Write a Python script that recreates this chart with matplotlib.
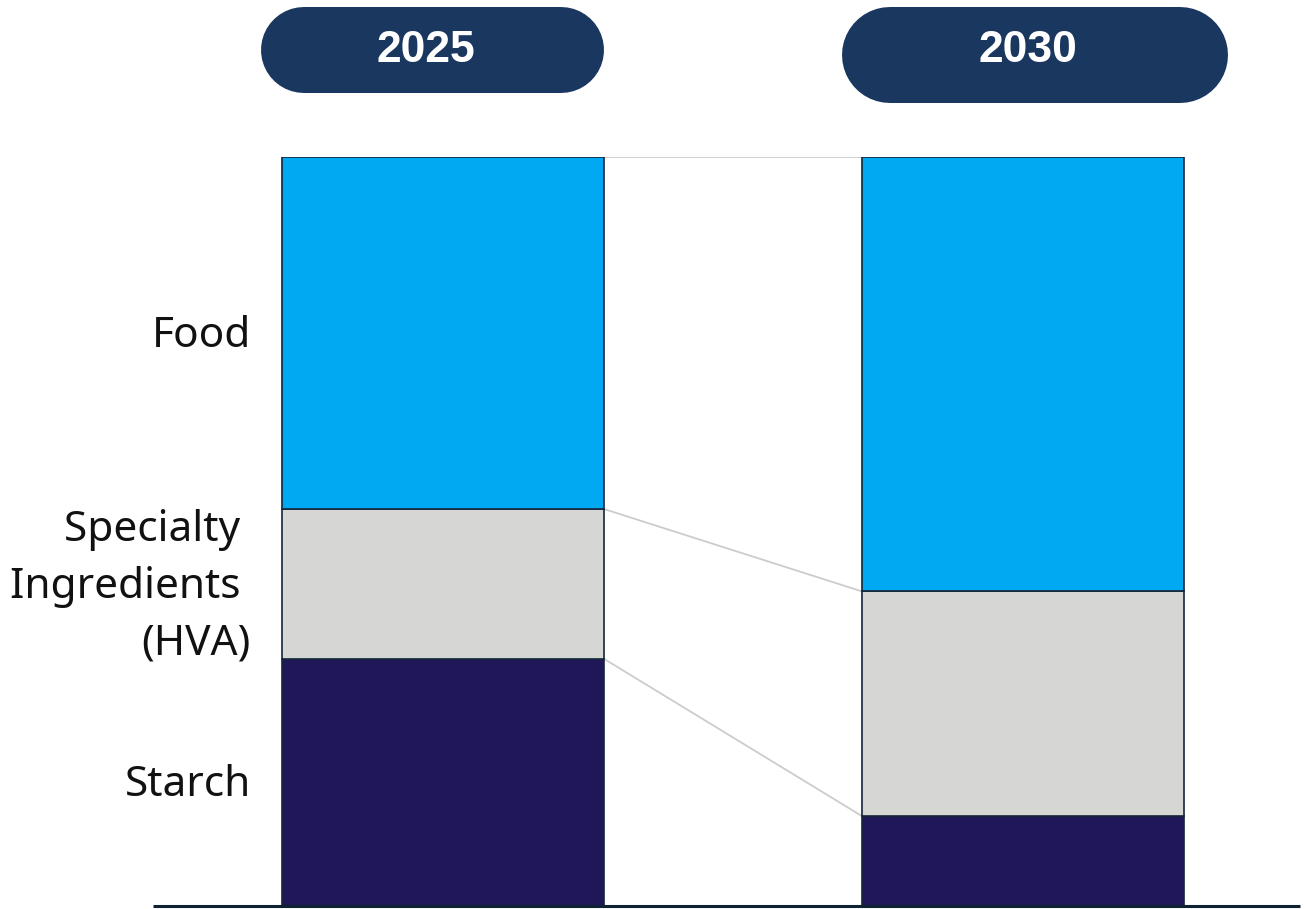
import matplotlib
matplotlib.use("Agg")
import matplotlib.pyplot as plt
from matplotlib.transforms import offset_copy
import numpy as np

years = ["2025", "2030"]
segments = ["Starch", "Specialty\u00a0\nIngredients\u00a0\n(HVA)", "Food"]
starch = [0.33, 0.12]
specialty = [0.20, 0.30]
food = [0.47, 0.58]

colors = ["#201758", "#D6D6D5", "#00A9F1"]
edge = "#14263A"
pill_color = "#1A3760"
link_color = "#CCCCCC"

W, H = 1306, 909
fig = plt.figure(figsize=(W / 100, H / 100), dpi=100)

# Main axes: y 0..1 spans the bar height, x in bar-index units
ax = fig.add_axes([0, 3 / H, 1, (906 - 157) / H])
px_per_unit = 580.0
x0 = -443.0 / px_per_unit
ax.set_xlim(x0, x0 + W / px_per_unit)
ax.set_ylim(0, 1)
ax.axis("off")

x = np.arange(len(years))
width = 322 / px_per_unit
bottom = np.zeros(len(years))
tops = []
for vals, col in zip([starch, specialty, food], colors):
    vals = np.array(vals)
    ax.bar(x, vals, width, bottom=bottom, color=col, edgecolor=edge,
           linewidth=1.2, zorder=3)
    bottom = bottom + vals
    tops.append(bottom.copy())

# Grey connectors between segment boundaries of the two bars
for t in tops:
    ax.plot([x[0] + width / 2, x[1] - width / 2], [t[0], t[1]],
            color=link_color, lw=1.3, zorder=2, solid_capstyle="butt")

# Baseline
ax.plot([-0.5, 1.478], [0, 0], color="#0E2233", lw=2.2, zorder=4,
        clip_on=False, solid_capstyle="butt")

# Segment labels next to the first bar
mids = [starch[0] / 2, starch[0] + specialty[0] / 2,
        starch[0] + specialty[0] + food[0] / 2]
label_x = x[0] - width / 2 - 31 / px_per_unit
for name, m in zip(segments, mids):
    dy = -3
    tr = offset_copy(ax.transData, fig=fig, x=0, y=dy, units="dots")
    ax.text(label_x, m, name, ha="right", va="center", ma="right",
            fontsize=30.5, family="Noto Sans", color="#111111",
            linespacing=1.47, transform=tr)

# Year pills in pixel coordinates (thick round-capped strokes)
top = fig.add_axes([0, 0, 1, 1], zorder=5)
top.set_xlim(0, W)
top.set_ylim(H, 0)
top.axis("off")
pills = [(261, 7, 343, 86), (842, 7, 386, 96)]
for (px, py, pw, ph), yr in zip(pills, years):
    r = ph / 2
    top.plot([px + r, px + pw - r], [py + r, py + r], color=pill_color,
             lw=ph * 72 / 100, solid_capstyle="round")
    top.text(px + pw / 2 - 7, 51, yr, ha="center", va="center", color="white",
             fontsize=32, fontweight="bold", family="Liberation Sans")

fig.savefig("out.png", dpi=100)
